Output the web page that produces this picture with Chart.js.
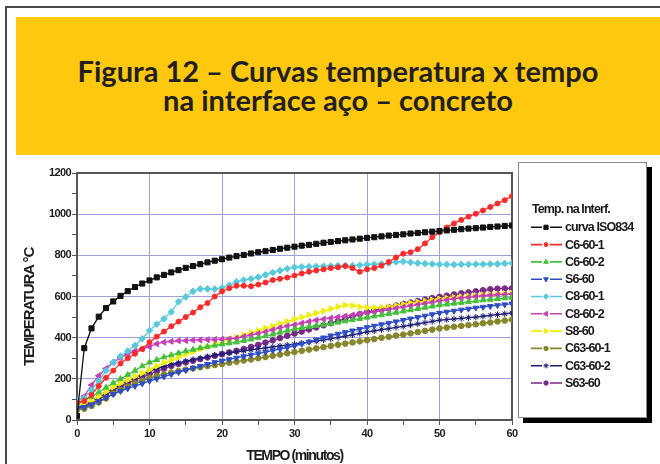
<!DOCTYPE html>
<html>
<head>
<meta charset="utf-8">
<script src="https://cdn.jsdelivr.net/npm/chart.js@4"></script>
<style>
  html, body { margin: 0; padding: 0; background: #fff; }
  body { width: 660px; height: 464px; position: relative; overflow: hidden; }
  #frame { position: absolute; left: 5px; top: 6px; width: 720px; height: 520px;
           border-left: 2px solid #4a4a4a; border-top: 2px solid #4a4a4a; }
  #banner { position: absolute; left: 16px; top: 17px; width: 644px; height: 138px; background: #fdc80e; }
  .tl { position: absolute; left: 0; width: 644px; text-align: center; margin: 0;
        font-family: Lato, "Open Sans", sans-serif; font-weight: 700; font-size: 29px;
        line-height: 30px; color: #231f20; white-space: nowrap; }
  #plot { position: absolute; left: 0; top: 160px; width: 660px; height: 304px; }
</style>
</head>
<body>
<div id="frame"></div>
<div id="banner">
  <div class="tl" style="top:39px">Figura 12 – Curvas temperatura x tempo</div>
  <div class="tl" style="top:68px">na interface aço – concreto</div>
</div>
<div id="plot"><canvas id="c" width="660" height="304"></canvas></div>
<script>
// time in minutes, 0..60
const minutes = [0,1,2,3,4,5,6,7,8,9,10,11,12,13,14,15,16,17,18,19,20,21,22,23,24,25,26,27,28,29,30,
  31,32,33,34,35,36,37,38,39,40,41,42,43,44,45,46,47,48,49,50,51,52,53,54,55,56,57,58,59,60];

const seriesNames = ['curva ISO834','C6-60-1','C6-60-2','S6-60','C8-60-1','C8-60-2','S8-60','C63-60-1','C63-60-2','S63-60'];

// temperatures (°C)
const isoCurve = [20,349,445,502,544,576,603,626,646,663,678,693,705,717,728,739,748,757,766,774,781,
  789,796,802,809,815,820,826,832,837,842,847,851,856,861,865,869,873,877,881,885,
  888,892,896,899,902,906,909,912,915,918,921,924,927,930,932,935,938,940,943,945];
const c6_60_1 = [85,92,122,165,205,240,275,300,322,345,378,405,430,455,478,500,522,548,568,600,625,
  640,652,652,650,658,668,680,686,692,702,712,720,726,732,738,742,748,738,720,732,
  738,750,768,790,808,815,830,858,888,912,935,955,972,988,1002,1018,1035,1052,1068,1088];
const c6_60_2 = [80,95,112,135,158,180,200,220,240,262,280,292,305,315,325,335,342,350,356,362,368,
  373,378,385,392,400,408,416,425,434,442,448,453,458,463,468,474,480,486,492,498,
  504,510,516,522,528,534,540,546,552,558,562,566,570,574,578,582,585,588,592,595];
const s6_60 = [55,62,75,90,108,125,140,153,165,177,190,200,211,222,232,242,252,262,271,280,288,
  295,302,309,316,323,330,338,345,352,360,370,380,390,400,410,418,426,434,442,450,
  457,464,471,478,485,492,499,506,513,520,525,530,535,540,545,549,553,557,561,565];
const c8_60_1 = [97,105,145,190,240,280,310,335,362,395,435,465,492,525,575,598,625,637,637,636,642,
  655,672,680,686,694,705,716,726,735,742,744,745,746,747,748,750,750,750,752,755,
  757,758,762,768,770,766,762,760,758,756,756,755,756,756,757,757,758,758,760,762];
const c8_60_2 = [88,115,170,215,250,280,302,320,335,345,356,370,378,382,385,386,388,389,390,391,392,
  394,397,405,412,420,428,438,448,456,462,470,478,485,490,495,500,505,510,515,520,
  525,530,536,542,548,554,560,566,572,578,583,588,592,596,600,603,606,608,610,612];
const s8_60 = [75,82,95,115,138,160,178,195,212,228,245,262,278,292,306,320,332,344,356,368,380,
  392,402,413,424,435,446,457,468,479,490,500,510,520,530,540,550,558,556,550,546,
  545,546,550,556,562,568,573,578,583,588,592,596,599,602,605,608,610,612,614,616];
const c63_60_1 = [48,55,68,85,105,128,145,162,177,191,205,214,222,230,238,245,251,256,262,267,272,
  278,283,289,294,300,306,312,318,324,330,336,342,348,354,360,366,371,377,382,388,
  393,399,404,410,415,421,427,433,439,445,449,453,457,461,465,470,474,479,483,488];
const c63_60_2 = [60,72,90,110,132,152,172,190,206,222,238,250,260,270,278,286,293,300,307,314,321,
  326,331,336,341,346,350,355,360,364,368,373,378,383,389,395,401,408,414,421,428,
  433,439,444,450,455,461,467,473,479,485,488,491,494,497,500,504,508,512,516,520];
const s63_60 = [55,65,82,100,122,145,162,178,193,208,222,236,250,262,272,280,288,296,304,312,320,
  328,336,345,355,365,376,387,398,409,420,430,440,450,460,470,481,492,503,514,524,
  532,540,548,556,564,571,578,585,592,598,604,610,615,620,625,630,635,638,639,640];

const seriesValues = [isoCurve, c6_60_1, c6_60_2, s6_60, c8_60_1, c8_60_2, s8_60, c63_60_1, c63_60_2, s63_60];

const xTickValues = [0,10,20,30,40,50,60];
const yTickValues = [0,200,400,600,800,1000,1200];

// drawing styles for each series
const styles = [
  { color: '#111111', point: 'rect',     rot: 0,   r: 3.6 },
  { color: '#ff2b2b', point: 'circle',   rot: 0,   r: 2.5 },
  { color: '#43c03a', point: 'triangle', rot: 0,   r: 3.3 },
  { color: '#2f4cc6', point: 'triangle', rot: 180, r: 3.3 },
  { color: '#57c9dc', point: 'rectRot',  rot: 0,   r: 3.3 },
  { color: '#c63db6', point: 'triangle', rot: 270, r: 3.4 },
  { color: '#f0ef00', point: 'triangle', rot: 90,  r: 3.4 },
  { color: '#86862c', point: 'circle',   rot: 0,   r: 2.8 },
  { color: '#1f1f78', point: 'star',     rot: 0,   r: 3.2 },
  { color: '#772a88', point: 'circle',   rot: 0,   r: 2.8 }
];

const datasets = seriesNames.map((name, i) => ({
  label: name,
  data: minutes.map((t, k) => ({ x: t, y: seriesValues[i][k] })),
  borderColor: styles[i].color,
  backgroundColor: styles[i].color,
  borderWidth: 1.3,
  pointStyle: styles[i].point,
  pointRotation: styles[i].rot,
  pointRadius: styles[i].r,
  pointBorderWidth: 1,
  pointBorderColor: styles[i].color,
  pointBackgroundColor: styles[i].color,
  tension: 0
}));

const AXIS = '#555555';
const GRID = '#a0a0d8';
const TXT = '#1e1e1e';
const FAM = '"Liberation Sans", Arial, sans-serif';

// plot frame, axis titles and the legend box
const decorations = {
  id: 'decorations',
  beforeDraw(chart) { chart.ctx.letterSpacing = '-0.6px'; },
  beforeDatasetsDraw(chart) {
    const { ctx, chartArea: a } = chart;
    ctx.save();
    ctx.strokeStyle = AXIS;
    ctx.lineWidth = 2;
    ctx.strokeRect(a.left, a.top, a.right - a.left, a.bottom - a.top);
    ctx.restore();
  },
  afterDraw(chart) {
    const { ctx, chartArea: a } = chart;
    ctx.save();
    ctx.fillStyle = TXT;
    // axis titles
    ctx.letterSpacing = '-1.4px';
    ctx.font = 'bold 14px ' + FAM;
    ctx.textAlign = 'center';
    ctx.textBaseline = 'middle';
    ctx.fillText('TEMPO (minutos)', (a.left + a.right) / 2, 296);
    ctx.save();
    ctx.translate(30, 147);
    ctx.rotate(-Math.PI / 2);
    ctx.letterSpacing = '-1.2px';
    ctx.font = 'bold 15px ' + FAM;
    ctx.fillText('TEMPERATURA °C', 0, 0);
    ctx.restore();

    // legend box with drop shadow
    const bx = 518, by = 2, bw = 129, bh = 256;
    ctx.fillStyle = '#000';
    ctx.fillRect(bx + 5, by + 5, bw, bh);
    ctx.fillStyle = '#fff';
    ctx.fillRect(bx, by, bw, bh);
    ctx.strokeStyle = '#8a8a8a';
    ctx.lineWidth = 1;
    ctx.strokeRect(bx + 0.5, by + 0.5, bw - 1, bh - 1);

    ctx.letterSpacing = '-0.9px';
    ctx.font = 'bold 12.5px ' + FAM;
    ctx.textAlign = 'left';
    ctx.textBaseline = 'middle';
    ctx.fillStyle = '#1a1a1a';
    ctx.fillText('Temp. na Interf.', 532, 50);
    chart.data.datasets.forEach((ds, i) => {
      const y = 67.3 + i * 17.3;
      ctx.strokeStyle = ds.borderColor;
      ctx.fillStyle = ds.borderColor;
      ctx.lineWidth = 1.6;
      ctx.beginPath();
      ctx.moveTo(531, y); ctx.lineTo(542, y);
      ctx.moveTo(550, y); ctx.lineTo(562, y);
      ctx.stroke();
      ctx.lineWidth = 1;
      Chart.helpers.drawPoint(ctx, {
        pointStyle: ds.pointStyle, rotation: ds.pointRotation,
        radius: Math.max(2, ds.pointRadius - 0.6), borderWidth: 1
      }, 546, y);
      ctx.fillStyle = '#1a1a1a';
      ctx.fillText(ds.label, 565, y + 0.5);
    });
    ctx.restore();
  }
};

new Chart(document.getElementById('c'), {
  type: 'line',
  data: { datasets },
  plugins: [decorations],
  options: {
    responsive: false,
    devicePixelRatio: 1,
    animation: false,
    layout: { padding: { left: 0, top: 13, right: 148, bottom: 0 } },
    plugins: { legend: { display: false }, tooltip: { enabled: false }, title: { display: false } },
    scales: {
      x: {
        type: 'linear', min: 0, max: 60,
        afterFit(s) { s.height = 44; },
        ticks: {
          stepSize: 5, autoSkip: false, maxRotation: 0, padding: 2,
          color: TXT, font: { family: FAM, size: 11, weight: 'bold' },
          callback: v => xTickValues.includes(v) ? String(v) : ''
        },
        grid: {
          color: c => (c.tick && xTickValues.includes(c.tick.value) && c.tick.value > 0 && c.tick.value < 60) ? GRID : 'rgba(0,0,0,0)',
          tickColor: AXIS, tickLength: 5, lineWidth: 1
        },
        border: { display: true, color: AXIS, width: 2 }
      },
      y: {
        min: 0, max: 1200,
        afterFit(s) { s.width = 77; },
        ticks: {
          stepSize: 100, autoSkip: false, padding: 1,
          color: TXT, font: { family: FAM, size: 11, weight: 'bold' },
          callback: v => yTickValues.includes(v) ? String(v) : ''
        },
        grid: {
          color: c => (c.tick && yTickValues.includes(c.tick.value) && c.tick.value > 0 && c.tick.value < 1200) ? GRID : 'rgba(0,0,0,0)',
          tickColor: AXIS, tickLength: 5, lineWidth: 1
        },
        border: { display: true, color: AXIS, width: 2 }
      }
    }
  }
});
</script>
</body>
</html>
